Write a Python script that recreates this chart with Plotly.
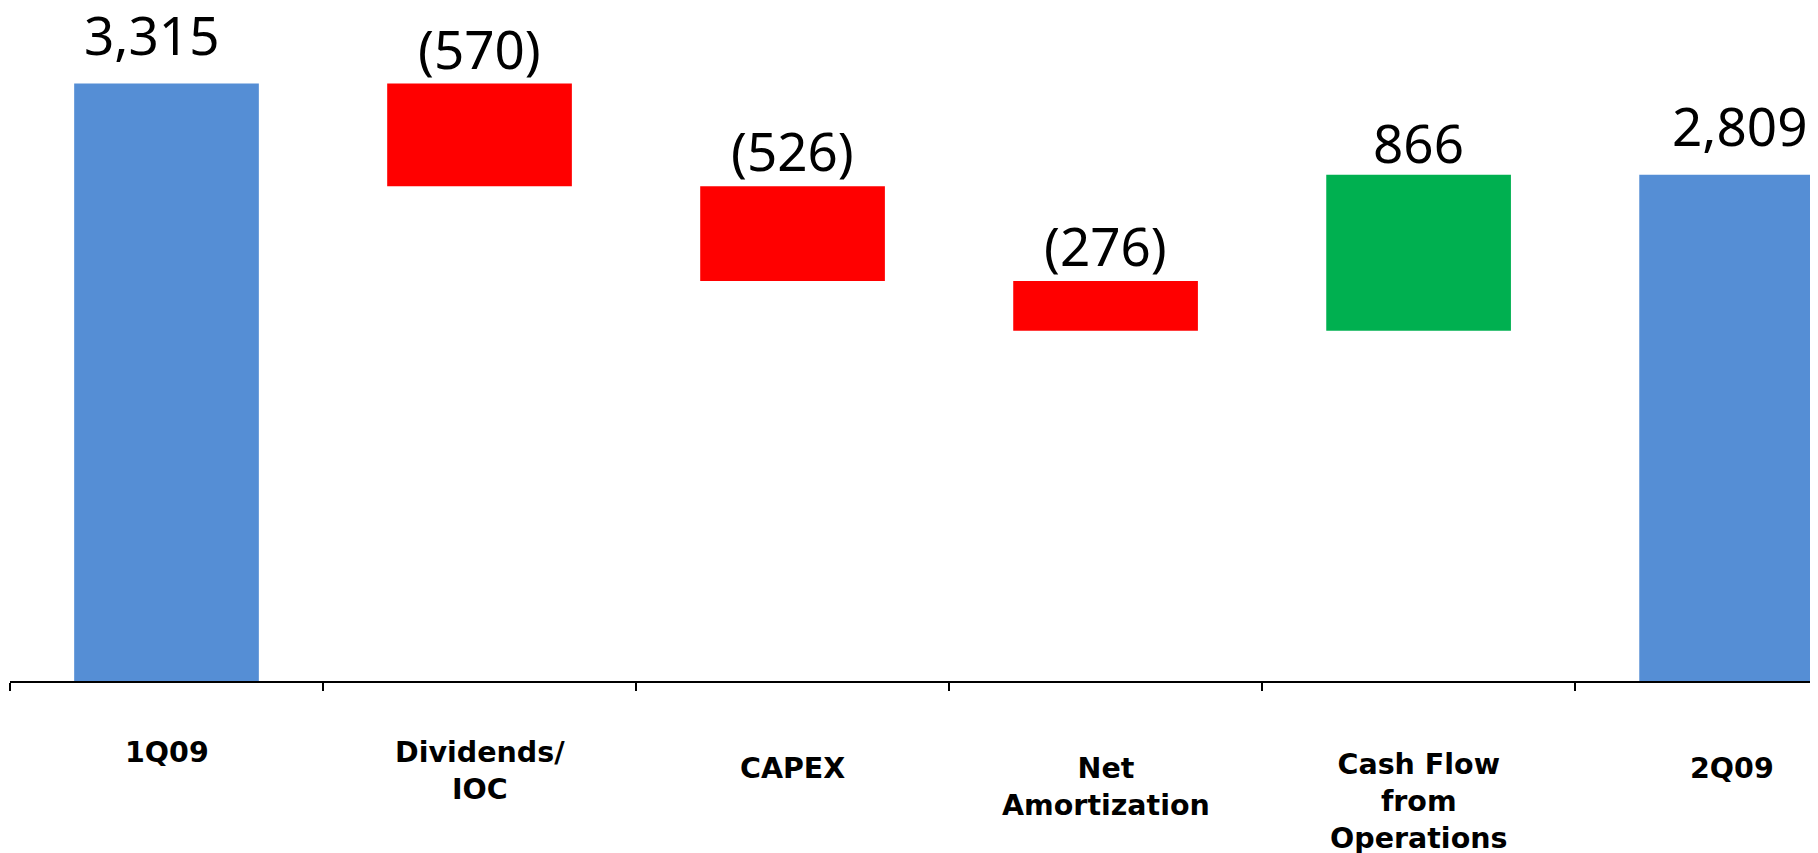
import plotly.graph_objects as go

# ---- data ----
categories = ["1Q09", "Dividends/IOC", "CAPEX", "Net Amortization",
              "Cash Flow from Operations", "2Q09"]
tick_labels = ["1Q09", "Dividends/<br>IOC", "CAPEX", "Net<br>Amortization",
               "Cash Flow<br>from<br>Operations", "2Q09"]
values = [3315, -570, -526, -276, 866, 2809]
measures = ["absolute", "relative", "relative", "relative", "relative", "total"]

# ---- styling ----
BLUE = "#558ED5"
RED = "#FF0000"
GREEN = "#00B050"
label_drop = [53, 53, 69, 69, 65, 69]     # px below axis for category label tops
value_xshift = [-15, 0, 0, 0, 0, 8]       # px horizontal nudge of value labels


def fmt(v):
    return f"({abs(v):,})" if v < 0 else f"{v:,}"


# top of each bar (for value labels)
level = 0
tops = []
for m, v in zip(measures, values):
    if m == "absolute":
        level = v
        tops.append(level)
    elif m == "relative":
        prev = level
        level += v
        tops.append(max(prev, level))
    else:
        tops.append(level)

fig = go.Figure(go.Waterfall(
    x=categories,
    y=values,
    measure=measures,
    width=0.59,
    increasing=dict(marker=dict(color=GREEN, line=dict(width=0))),
    decreasing=dict(marker=dict(color=RED, line=dict(width=0))),
    totals=dict(marker=dict(color=BLUE, line=dict(width=0))),
    connector=dict(visible=False),
    cliponaxis=False,
    hoverinfo="skip",
))

annotations = []
for c, m, v, t, xs in zip(categories, measures, values, tops, value_xshift):
    annotations.append(dict(
        x=c, y=t, xref="x", yref="y", text=fmt(v), showarrow=False,
        yanchor="bottom", xanchor="center", xshift=xs,
        yshift=(11 if m != "relative" else -3) - (3 if v > 0 and m == "relative" else 0),
        font=dict(family="Noto Sans", size=53, color="black"),
    ))
for c, lab, d in zip(categories, tick_labels, label_drop):
    annotations.append(dict(
        x=c, y=0, xref="x", yref="paper", text=lab, showarrow=False,
        yanchor="top", xanchor="center", yshift=-d,
        font=dict(family="DejaVu Sans", size=28.5, color="black", weight="bold"),
    ))

fig.update_layout(
    width=1810, height=845,
    margin=dict(l=2, r=0, t=0, b=172, pad=0),
    plot_bgcolor="white", paper_bgcolor="white",
    showlegend=False,
    annotations=annotations,
    xaxis=dict(
        type="category", range=[-0.5, 5.276],
        showline=True, linecolor="black", linewidth=2,
        ticks="outside", tickson="boundaries", ticklen=8, tickwidth=2,
        tickcolor="black", showticklabels=False, showgrid=False, zeroline=False,
    ),
    yaxis=dict(visible=False, range=[0, 3734], showgrid=False, zeroline=False),
)

fig.write_html("out.html", config={"displayModeBar": False})
